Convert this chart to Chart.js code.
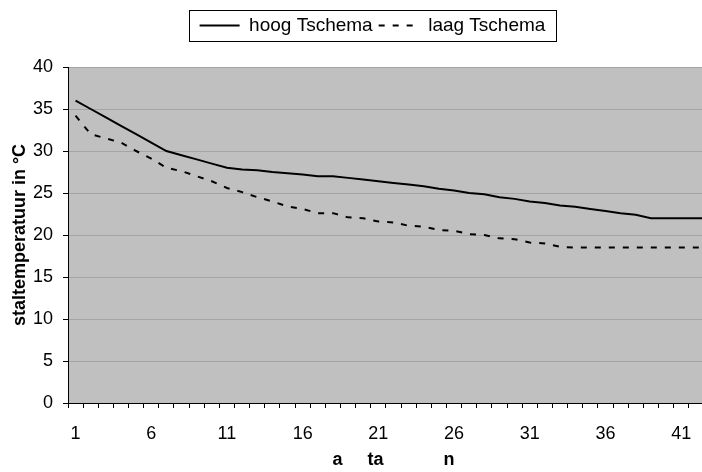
<!DOCTYPE html>
<html>
<head>
<meta charset="utf-8">
<script src="https://cdn.jsdelivr.net/npm/chart.js@4"></script>
<style>
  html, body { margin: 0; padding: 0; overflow: hidden; background: #fff; }
  canvas { display: block; }
</style>
</head>
<body>
<canvas id="stalChart" width="740" height="472"></canvas>
<script>
// dagen 1..43 (rechterkant valt buiten beeld)
const days = ['1','2','3','4','5','6','7','8','9','10','11','12','13','14','15','16','17','18','19','20',
  '21','22','23','24','25','26','27','28','29','30','31','32','33','34','35','36','37','38','39','40',
  '41','42','43'];

const hoogTschema = [36, 35, 34, 33, 32, 31, 30, 29.5, 29, 28.5,
  28, 27.8, 27.7, 27.5, 27.35, 27.2, 27, 27, 26.8, 26.6,
  26.4, 26.2, 26, 25.8, 25.5, 25.3, 25, 24.85, 24.5, 24.3,
  24, 23.8, 23.5, 23.35, 23.1, 22.85, 22.6, 22.4, 22, 22,
  22, 22, 22];

const laagTschema = [34.2, 32, 31.5, 31, 30, 29.1, 28, 27.6, 27, 26.4,
  25.6, 25.1, 24.5, 24, 23.4, 23.1, 22.6, 22.6, 22.1, 22,
  21.6, 21.5, 21.1, 21, 20.6, 20.5, 20.1, 20, 19.6, 19.5,
  19.1, 19, 18.6, 18.5, 18.5, 18.5, 18.5, 18.5, 18.5, 18.5,
  18.5, 18.5, 18.5];

const yTicks = [0, 5, 10, 15, 20, 25, 30, 35, 40];

Chart.defaults.font.family = '"Liberation Sans", Arial, sans-serif';
Chart.defaults.color = '#000';

// grijze achtergrond van het plotvlak
const plotBackground = {
  id: 'plotBackground',
  beforeDraw(chart) {
    const {ctx, chartArea} = chart;
    ctx.save();
    ctx.fillStyle = '#c0c0c0';
    ctx.fillRect(chartArea.left, chartArea.top, chartArea.right - chartArea.left, chartArea.bottom - chartArea.top);
    ctx.restore();
  }
};

// legenda iets naar rechts, zoals in het origineel
const legendShift = {
  id: 'legendShift',
  afterLayout(chart) {
    if (!chart.legend) return;
    chart.legend.left += 13;
    chart.legend.right += 13;
  }
};

// kader rond de legenda
const legendFrame = {
  id: 'legendFrame',
  afterDraw(chart) {
    const boxes = chart.legend && chart.legend.legendHitBoxes;
    if (!boxes || !boxes.length) return;
    const first = boxes[0];
    const last = boxes[boxes.length - 1];
    const x1 = Math.round(first.left - 11) + 0.5;
    const x2 = Math.round(last.left + last.width + 11) + 0.5;
    const y1 = Math.round(first.top - 6) + 0.5;
    const y2 = Math.round(first.top + first.height + 6) + 0.5;
    const ctx = chart.ctx;
    ctx.save();
    ctx.strokeStyle = '#000';
    ctx.lineWidth = 1;
    ctx.setLineDash([]);
    ctx.strokeRect(x1, y1, x2 - x1, y2 - y1);
    ctx.restore();
  }
};

new Chart(document.getElementById('stalChart'), {
  type: 'line',
  data: {
    labels: days,
    datasets: [{
      label: 'hoog Tschema',
      data: hoogTschema,
      borderColor: '#000',
      backgroundColor: '#000',
      borderWidth: 2,
      pointRadius: 0,
      tension: 0,
      fill: false
    }, {
      label: 'laag Tschema',
      data: laagTschema,
      borderColor: '#000',
      backgroundColor: '#000',
      borderWidth: 2,
      borderDash: [6, 8],
      pointRadius: 0,
      tension: 0,
      fill: false
    }]
  },
  options: {
    responsive: false,
    animation: false,
    layout: { padding: { top: 10, right: 21, bottom: 0, left: 0 } },
    plugins: {
      legend: {
        position: 'top',
        weight: 1000,
        labels: {
          usePointStyle: true,
          pointStyle: 'line',
          pointStyleWidth: 40,
          boxWidth: 40,
          padding: 6,
          font: { size: 19 },
          color: '#000',
          generateLabels: function(chart) {
            const items = Chart.defaults.plugins.legend.labels.generateLabels(chart);
            items.forEach(function(item) {
              const ds = chart.data.datasets[item.datasetIndex];
              item.lineDash = ds.borderDash || [];
              item.lineWidth = ds.borderWidth;
              item.strokeStyle = ds.borderColor;
            });
            return items;
          }
        }
      },
      // lege titel als ruimte tussen legenda en plotvlak
      title: {
        display: true,
        text: '',
        weight: 500,
        font: { size: 10, lineHeight: 1 },
        padding: { top: 7, bottom: 5 }
      },
      tooltip: { enabled: false }
    },
    scales: {
      x: {
        type: 'category',
        offset: true,
        afterFit: function(scale) {
          scale.height = 69;
        },
        grid: {
          offset: true,
          drawOnChartArea: false,
          drawTicks: true,
          tickLength: 5,
          tickColor: '#000'
        },
        border: { color: '#000', width: 1 },
        ticks: {
          autoSkip: false,
          maxRotation: 0,
          padding: 15,
          font: { size: 18 },
          callback: function(value, index) {
            return index % 5 === 0 ? days[index] : '';
          }
        },
        title: {
          display: true,
          text: 'a     ta            n',
          font: { size: 18, weight: 'bold' },
          padding: { top: 5, bottom: 1 }
        }
      },
      y: {
        min: 0,
        max: 40,
        afterBuildTicks: function(scale) {
          scale.ticks = yTicks.map(v => ({ value: v }));
        },
        afterFit: function(scale) {
          scale.width = 68;
        },
        grid: {
          color: '#a4a4a4',
          lineWidth: 1,
          tickLength: 5,
          tickColor: '#000'
        },
        border: { color: '#000', width: 1 },
        ticks: {
          padding: 10,
          font: { size: 18 }
        },
        title: {
          display: true,
          text: 'staltemperatuur in °C',
          font: { size: 18, weight: 'bold' },
          padding: { top: 9, bottom: 0 }
        }
      }
    }
  },
  plugins: [plotBackground, legendShift, legendFrame]
});
</script>
</body>
</html>
